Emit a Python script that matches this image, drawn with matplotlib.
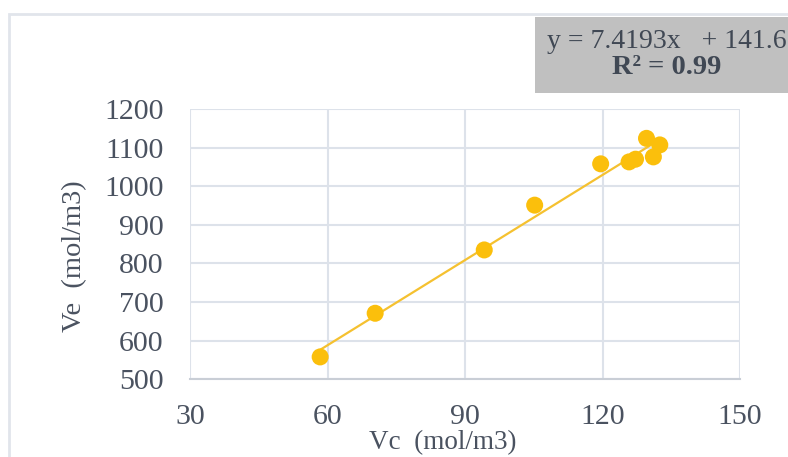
import numpy as np
import matplotlib
matplotlib.use("Agg")
import matplotlib.pyplot as plt
from matplotlib.patches import Rectangle

vc = [58.4, 70.4, 94.2, 105.2, 119.6, 125.8, 127.2, 129.6, 131.1, 132.5]
ve = [558, 671, 835, 951, 1058, 1063, 1070, 1124, 1076, 1107]
x_ticks = [30, 60, 90, 120, 150]
y_ticks = [500, 600, 700, 800, 900, 1000, 1100, 1200]
eq_text = "y = 7.4193x   + 141.6"
r2_text = "R² = 0.99"
x_label = "Vc  (mol/m3)"
y_label = "Ve  (mol/m3)"

plt.rcParams['font.family'] = ['Liberation Serif', 'DejaVu Serif']

W, H = 788, 457
fig = plt.figure(figsize=(W/100, H/100), dpi=100)
fig.patch.set_facecolor('white')

# outer chart border
fig.patches.append(Rectangle((9/W, -0.1), 1.2, (H-14)/H + 0.1, transform=fig.transFigure,
                             fill=False, edgecolor='#e1e5eb', linewidth=2))

ax = fig.add_axes([190/W, 1-379.3/H, (740-190)/W, (379.3-109)/H])
ax.set_xlim(30, 150)
ax.set_ylim(500, 1200)
ax.set_xticks(x_ticks)
ax.set_yticks(y_ticks)
ax.grid(True, color='#dde2ea', linewidth=1.5)
ax.set_axisbelow(True)
for s in ['top', 'right', 'left']:
    ax.spines[s].set_visible(False)
ax.spines['bottom'].set_color('#c9ced6')
ax.spines['bottom'].set_linewidth(1.5)
ax.tick_params(axis='both', length=0, labelsize=21.5, colors='#4a5260')
ax.tick_params(axis='y', pad=19)
ax.tick_params(axis='x', pad=18)

# trendline
coef = np.polyfit(vc, ve, 1)
xs = np.array([min(vc), max(vc)])
ax.plot(xs, np.polyval(coef, xs), color='#f5c130', linewidth=1.6, zorder=2)
ax.scatter(vc, ve, s=150, color='#fbbf0c', edgecolors='none', zorder=3)

fig.text(443/W, 1-443/H, x_label, ha='center', va='center', fontsize=19.5, color='#4a5260')
fig.text(75/W, 1-256/H, y_label, ha='center', va='center', fontsize=20.5, color='#4a5260',
         rotation=90)

# equation box
fig.patches.append(Rectangle((535/W, 1-93/H), 0.4, (93-17)/H, transform=fig.transFigure,
                             facecolor='#c0c0c0', edgecolor='none'))
fig.text(667/W, 1-42/H, eq_text, ha='center', va='center', fontsize=20, color='#404854')
fig.text(667/W, 1-68/H, r2_text, ha='center', va='center', fontsize=20.5, color='#404854',
         fontweight='bold')

fig.savefig('out.png', dpi=100)
